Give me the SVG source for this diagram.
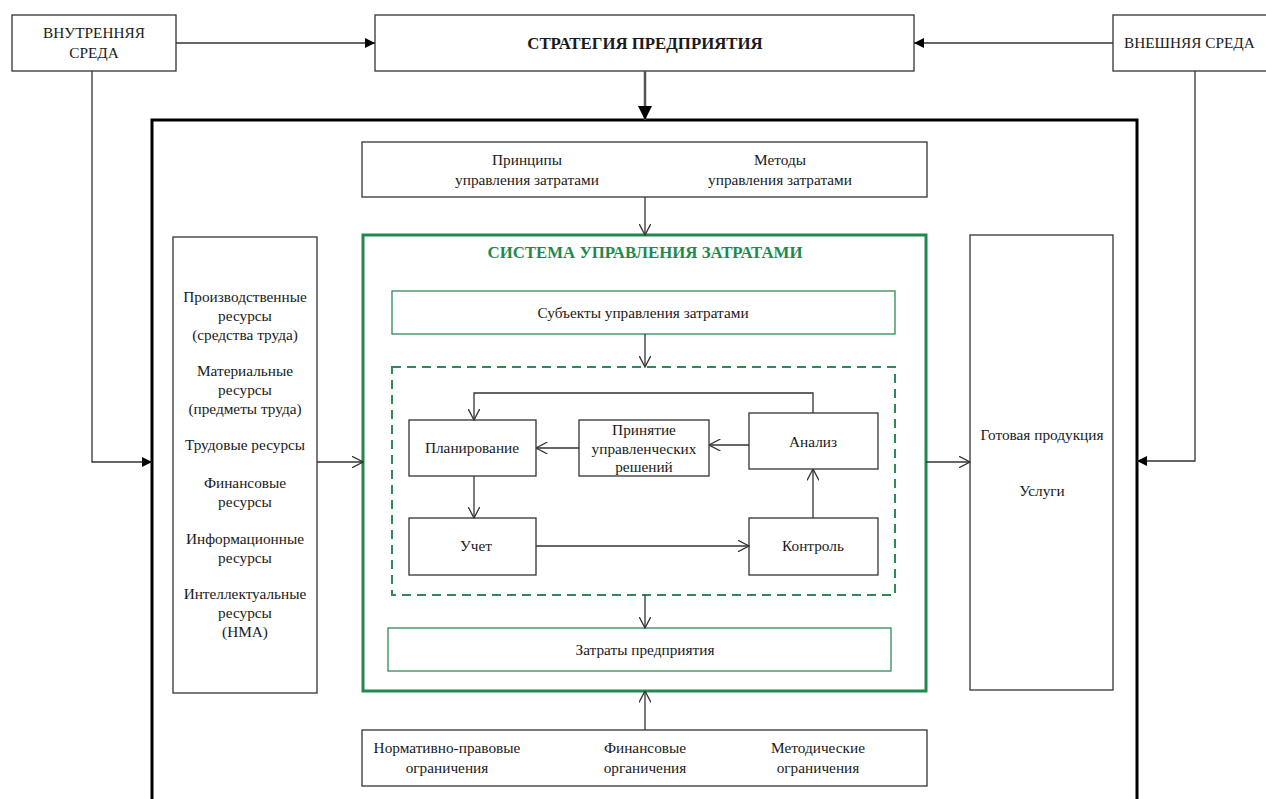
<svg xmlns="http://www.w3.org/2000/svg" width="1266" height="799" viewBox="0 0 1266 799">
<style>
text{font-family:"Liberation Serif","Times New Roman",serif;font-size:15.3px;fill:#1a1a1a;text-anchor:middle}
.b{fill:#fff;stroke:#333;stroke-width:1.3}
.g{fill:#fff;stroke:#2e8b57;stroke-width:1.3}
.ln{fill:none;stroke:#333;stroke-width:1.3}
.t{font-weight:bold;font-size:16.8px}
</style>
<defs>
<marker id="fa" viewBox="0 0 10 10" refX="10" refY="5" markerWidth="10" markerHeight="10" markerUnits="userSpaceOnUse" orient="auto"><path d="M0,0L10,5L0,10z" fill="#000"/></marker>
<marker id="fb" viewBox="0 0 14 14" refX="14" refY="7" markerWidth="14" markerHeight="14" markerUnits="userSpaceOnUse" orient="auto"><path d="M0,0L14,7L0,14z" fill="#000"/></marker>
<marker id="oa" viewBox="0 0 12 12" refX="11.5" refY="6" markerWidth="12" markerHeight="12" markerUnits="userSpaceOnUse" orient="auto"><path d="M0,0L11.5,6L0,12" fill="none" stroke="#333" stroke-width="1.3"/></marker>
</defs>

<rect x="152" y="120" width="985" height="700" fill="none" stroke="#000" stroke-width="3"/>

<g id="vnutr"><rect class="b" x="12" y="15" width="164" height="56"/><text x="94" y="38">ВНУТРЕННЯЯ</text><text x="94" y="58">СРЕДА</text></g>
<g id="strat"><rect class="b" x="375" y="15" width="539" height="56"/><text class="t" x="645" y="49">СТРАТЕГИЯ ПРЕДПРИЯТИЯ</text></g>
<g id="vnesh"><rect class="b" x="1113" y="15" width="160" height="56"/><text x="1124" y="48" style="text-anchor:start">ВНЕШНЯЯ СРЕДА</text></g>

<g id="principles"><rect class="b" x="362" y="142" width="565" height="55"/>
<text x="527" y="165">Принципы</text><text x="527" y="185">управления затратами</text>
<text x="780" y="165">Методы</text><text x="780" y="185">управления затратами</text></g>

<g id="resources"><rect class="b" x="173" y="237" width="144" height="456"/>
<text x="245" y="302">Производственные</text><text x="245" y="321">ресурсы</text><text x="245" y="340">(средства труда)</text>
<text x="245" y="376">Материальные</text><text x="245" y="395">ресурсы</text><text x="245" y="414">(предметы труда)</text>
<text x="245" y="450">Трудовые ресурсы</text>
<text x="245" y="488">Финансовые</text><text x="245" y="507">ресурсы</text>
<text x="245" y="544">Информационные</text><text x="245" y="563">ресурсы</text>
<text x="245" y="599">Интеллектуальные</text><text x="245" y="618">ресурсы</text><text x="245" y="637">(НМА)</text></g>

<g id="output"><rect class="b" x="970" y="235" width="143" height="455"/>
<text x="1042" y="440">Готовая продукция</text><text x="1042" y="496">Услуги</text></g>

<g id="system"><rect x="363" y="235" width="563" height="456" fill="#fff" stroke="#1e8a4c" stroke-width="3"/>
<text class="t" x="645" y="258" style="fill:#1e8a4c">СИСТЕМА УПРАВЛЕНИЯ ЗАТРАТАМИ</text></g>

<g id="subjects"><rect class="g" x="392" y="291" width="503" height="43"/><text x="643" y="318">Субъекты управления затратами</text></g>
<g id="cycle"><rect x="392" y="367" width="503" height="228" fill="none" stroke="#2e8b57" stroke-width="2" stroke-dasharray="9,6"/></g>

<g id="plan"><rect class="b" x="409" y="420" width="127" height="56"/><text x="472" y="453">Планирование</text></g>
<g id="decision"><rect class="b" x="579" y="420" width="130" height="56"/><text x="644" y="435">Принятие</text><text x="644" y="454">управленческих</text><text x="644" y="472">решений</text></g>
<g id="analysis"><rect class="b" x="749" y="413" width="129" height="56"/><text x="813" y="447">Анализ</text></g>
<g id="account"><rect class="b" x="409" y="518" width="127" height="57"/><text x="476" y="551">Учет</text></g>
<g id="control"><rect class="b" x="749" y="518" width="129" height="57"/><text x="813" y="551">Контроль</text></g>

<g id="costs"><rect class="g" x="388" y="628" width="503" height="43"/><text x="645" y="655">Затраты предприятия</text></g>

<g id="limits"><rect class="b" x="362" y="730" width="565" height="56"/>
<text x="447" y="753">Нормативно-правовые</text><text x="447" y="773">ограничения</text>
<text x="645" y="753">Финансовые</text><text x="645" y="773">органичения</text>
<text x="818" y="753">Методические</text><text x="818" y="773">ограничения</text></g>

<g id="connectors">
<path class="ln" d="M176,43H375" marker-end="url(#fa)"/>
<path class="ln" d="M1113,43H914" marker-end="url(#fa)"/>
<path d="M645,71V120" fill="none" stroke="#555" stroke-width="2.5" marker-end="url(#fb)"/>
<path class="ln" d="M92,71V462H152" marker-end="url(#fa)"/>
<path class="ln" d="M1195,71V461H1137" marker-end="url(#fa)"/>
<path class="ln" d="M645,197V235" marker-end="url(#oa)"/>
<path class="ln" d="M317,462H363" marker-end="url(#oa)"/>
<path class="ln" d="M926,462H970" marker-end="url(#oa)"/>
<path class="ln" d="M645,334V367" marker-end="url(#oa)"/>
<path class="ln" d="M749,445H709" marker-end="url(#oa)"/>
<path class="ln" d="M579,448H536" marker-end="url(#oa)"/>
<path class="ln" d="M813,413V393H474V420" marker-end="url(#oa)"/>
<path class="ln" d="M474,476V518" marker-end="url(#oa)"/>
<path class="ln" d="M536,546H749" marker-end="url(#oa)"/>
<path class="ln" d="M813,518V469" marker-end="url(#oa)"/>
<path class="ln" d="M645,595V628" marker-end="url(#oa)"/>
<path class="ln" d="M645,730V691" marker-end="url(#oa)"/>
</g>
</svg>
